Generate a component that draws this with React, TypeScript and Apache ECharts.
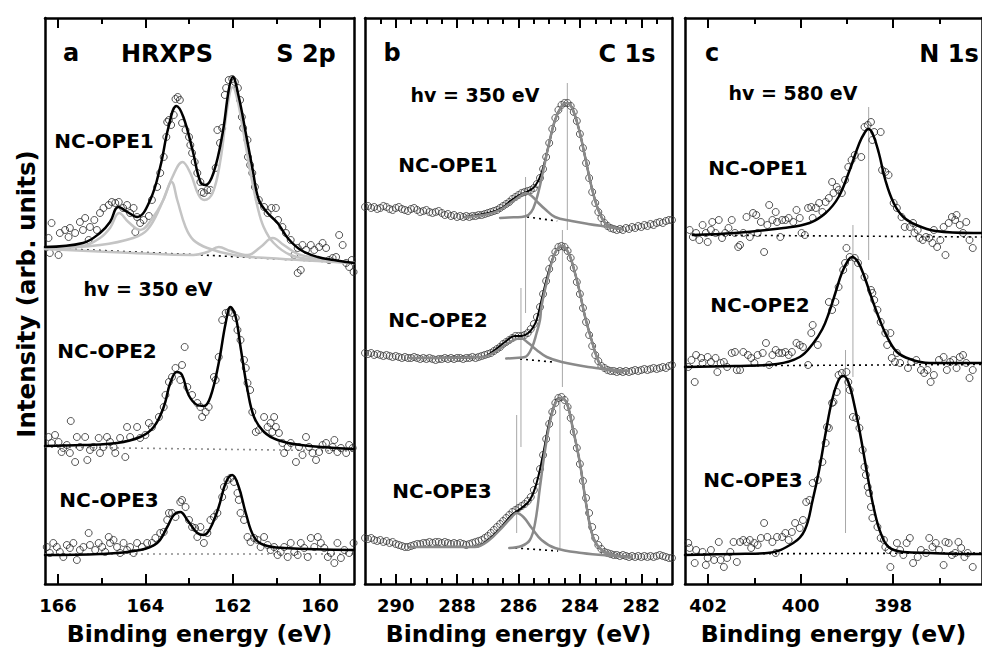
import { useEffect, useRef } from 'react';
import * as echarts from 'echarts';

type Pt = [number, number];

// ---------- S 2p (panel a) ----------
const s2pMajorTicks = [160, 162, 164, 166];
const s2pMinorTicks = [161, 163, 165];

const s2pOpe1Points: Pt[] = [
  [166.22, 346], [166.15, 361], [166.19, 331], [165.99, 329], [165.96, 351], [165.84, 354], [165.76, 347],
  [165.73, 356], [165.61, 351], [165.5, 362], [165.43, 354], [165.38, 366], [165.3, 344], [165.27, 357],
  [165.17, 364], [165.11, 354], [165.04, 371], [164.96, 376], [164.84, 379], [164.77, 382], [164.69, 381],
  [164.61, 382], [164.51, 376], [164.42, 379], [164.35, 371], [164.27, 376], [164.23, 352], [164.19, 367],
  [164.12, 361], [164.04, 364], [163.92, 368], [163.85, 384], [163.73, 397], [163.66, 411], [163.58, 427],
  [163.52, 447], [163.5, 462], [163.46, 464], [163.41, 459], [163.35, 469], [163.31, 485], [163.26, 487],
  [163.21, 484], [163.16, 461], [163.08, 454], [163.0, 447], [162.97, 439], [162.93, 431], [162.87, 422],
  [162.81, 411], [162.74, 402], [162.71, 392], [162.66, 391], [162.58, 394], [162.51, 394], [162.39, 416],
  [162.35, 454], [162.29, 441], [162.24, 456], [162.18, 489], [162.15, 496], [162.09, 504], [162.01, 505],
  [161.95, 502], [161.88, 496], [161.83, 484], [161.79, 467], [161.76, 456], [161.66, 444], [161.65, 427],
  [161.6, 419], [161.55, 411], [161.49, 397], [161.4, 384], [161.28, 377], [161.2, 371], [161.11, 376],
  [161.01, 376], [160.96, 364], [160.86, 357], [160.78, 351], [160.67, 344], [160.59, 329], [160.51, 336],
  [160.4, 339], [160.32, 334], [160.21, 339], [160.13, 334], [160.02, 337], [159.94, 341], [159.86, 336],
  [159.79, 324], [159.71, 326], [159.63, 327], [159.56, 349], [159.48, 339], [159.4, 321], [159.33, 317],
  [159.27, 324], [159.23, 312], [160.51, 311], [160.44, 314],
];
const s2pOpe1Fit: Pt[] = [
  [166.3, 337], [165.43, 341], [165.04, 351], [164.81, 362], [164.62, 377], [164.41, 372], [164.19, 367],
  [163.89, 384], [163.66, 417], [163.47, 457], [163.29, 478], [163.13, 467], [162.92, 434], [162.74, 402],
  [162.62, 399], [162.44, 411], [162.23, 451], [162.09, 494], [162.0, 507], [161.86, 487], [161.7, 451],
  [161.54, 414], [161.4, 384], [161.2, 371], [160.97, 361], [160.74, 346], [160.44, 334], [160.05, 327],
  [159.68, 324], [159.22, 321],
];
const s2pOpe1DoubletA: Pt[] = [
  [166.3, 335], [165.04, 339], [164.28, 346], [163.96, 354], [163.66, 377], [163.38, 407], [163.15, 422],
  [162.97, 411], [162.78, 389], [162.65, 384], [162.46, 391], [162.28, 424], [162.12, 477], [162.0, 497],
  [161.89, 484], [161.75, 451], [161.59, 411], [161.43, 377], [161.29, 357], [161.06, 341], [160.67, 329],
  [160.05, 324], [159.22, 321],
];
const s2pOpe1DoubletB: Pt[] = [
  [166.3, 336], [165.43, 338], [165.04, 346], [164.81, 356], [164.6, 371], [164.39, 362], [164.12, 354],
  [163.82, 367], [163.59, 384], [163.4, 402], [163.27, 384], [163.08, 357], [162.9, 344], [162.58, 336],
  [161.98, 329], [161.2, 326], [159.22, 321],
];
const s2pOpe1DoubletC: Pt[] = [
  [166.3, 335], [164.28, 331], [162.9, 329], [162.58, 332], [162.32, 337], [162.05, 333], [161.66, 329],
  [161.36, 337], [161.08, 346], [160.83, 339], [160.44, 329], [159.22, 321],
];
const s2pOpe1Background: Pt[] = [[166.3, 336], [162.7, 329], [159.22, 321]];

const s2pOpe2Points: Pt[] = [
  [166.22, 147], [166.15, 141], [166.07, 149], [165.99, 142], [165.92, 132], [165.88, 136], [165.8, 139],
  [165.73, 131], [165.71, 163], [165.61, 122], [165.57, 147], [165.5, 137], [165.38, 147], [165.33, 124],
  [165.27, 134], [165.19, 137], [165.07, 146], [165.04, 131], [164.96, 137], [164.88, 147], [164.81, 142],
  [164.73, 137], [164.69, 131], [164.58, 146], [164.46, 127], [164.42, 157], [164.35, 147], [164.19, 157],
  [164.12, 146], [164.0, 149], [163.92, 161], [163.85, 157], [163.69, 167], [163.58, 177], [163.54, 189],
  [163.46, 202], [163.39, 207], [163.31, 216], [163.16, 219], [163.2, 204], [163.1, 237], [163.04, 197],
  [162.93, 189], [162.81, 181], [162.74, 177], [162.7, 167], [162.62, 172], [162.55, 177], [162.43, 207],
  [162.39, 204], [162.32, 227], [162.24, 264], [162.16, 271], [162.09, 272], [162.01, 271], [161.93, 266],
  [161.89, 254], [161.82, 244], [161.74, 224], [161.7, 216], [161.66, 201], [161.6, 194], [161.55, 172],
  [161.47, 152], [161.4, 154], [161.28, 167], [161.2, 157], [161.13, 161], [161.09, 152], [161.05, 167],
  [161.01, 157], [160.94, 151], [160.86, 141], [160.82, 131], [160.74, 137], [160.67, 141], [160.55, 122],
  [160.48, 137], [160.4, 129], [160.32, 147], [160.25, 137], [160.17, 131], [160.09, 124], [160.02, 132],
  [159.94, 139], [159.86, 141], [159.79, 134], [159.71, 137], [159.67, 144], [159.6, 132], [159.52, 136],
  [159.4, 131], [159.33, 139], [159.25, 136],
];
const s2pOpe2Fit: Pt[] = [
  [166.3, 138], [165.42, 139], [164.65, 141], [164.12, 147], [163.81, 157], [163.58, 177], [163.43, 201],
  [163.28, 212], [163.16, 209], [163.01, 189], [162.81, 179], [162.66, 178], [162.51, 187], [162.32, 221],
  [162.16, 261], [162.05, 277], [161.93, 267], [161.82, 237], [161.66, 194], [161.51, 167], [161.28, 152],
  [160.97, 144], [160.44, 139], [159.22, 135],
];
const s2pOpe2Background: Pt[] = [[166.3, 137], [159.22, 133]];

const s2pOpe3Points: Pt[] = [
  [166.26, 37], [166.19, 31], [166.11, 41], [166.03, 37], [165.96, 32], [165.88, 27], [165.8, 39],
  [165.73, 36], [165.65, 41], [165.57, 24], [165.5, 34], [165.42, 37], [165.3, 51], [165.27, 39],
  [165.15, 34], [165.07, 41], [164.99, 37], [164.92, 32], [164.84, 47], [164.81, 41], [164.73, 44],
  [164.65, 37], [164.58, 31], [164.5, 41], [164.42, 34], [164.35, 37], [164.27, 31], [164.19, 41],
  [164.08, 37], [163.96, 41], [163.85, 41], [163.77, 46], [163.66, 51], [163.58, 52], [163.5, 64],
  [163.46, 71], [163.39, 71], [163.31, 67], [163.2, 82], [163.16, 84], [163.08, 77], [163.0, 64],
  [162.93, 57], [162.86, 56], [162.81, 47], [162.74, 57], [162.66, 41], [162.58, 51], [162.51, 64],
  [162.43, 67], [162.35, 71], [162.24, 87], [162.2, 97], [162.12, 104], [162.05, 106], [161.97, 102],
  [161.89, 91], [161.86, 84], [161.82, 71], [161.74, 64], [161.66, 47], [161.59, 42], [161.51, 46],
  [161.43, 44], [161.36, 37], [161.28, 47], [161.2, 39], [161.13, 34], [161.05, 37], [160.97, 29],
  [160.9, 32], [160.82, 37], [160.74, 27], [160.67, 41], [160.59, 32], [160.51, 29], [160.44, 41],
  [160.36, 36], [160.28, 27], [160.21, 46], [160.13, 37], [160.05, 47], [159.98, 41], [159.9, 36],
  [159.82, 27], [159.75, 31], [159.67, 21], [159.6, 41], [159.52, 26], [159.44, 34], [159.33, 31],
  [159.23, 41],
];
const s2pOpe3Fit: Pt[] = [
  [166.3, 29], [165.04, 30], [164.12, 34], [163.73, 41], [163.5, 57], [163.35, 69], [163.2, 72],
  [163.04, 64], [162.81, 51], [162.66, 49], [162.51, 56], [162.32, 77], [162.16, 101], [162.01, 109],
  [161.86, 97], [161.7, 71], [161.51, 47], [161.28, 39], [160.82, 36], [159.22, 34],
];
const s2pOpe3Background: Pt[] = [[166.3, 30], [159.22, 30]];

// ---------- C 1s (panel b) ----------
const c1sMajorTicks = [282, 284, 286, 288, 290];
const c1sMinorTicks = [281.5, 282.5, 283, 283.5, 284.5, 285, 285.5, 286.5, 287, 287.5, 288.5, 289, 289.5, 290.5];
// measured on a 0.1 eV grid from 291.0 eV down to 281.0 eV
const c1sEnergy = Array.from({ length: 101 }, (_, i) => Math.round((291 - i * 0.1) * 10) / 10);

const c1sOpe1Counts = [
  377, 378, 376, 377, 375, 376, 378, 377, 375, 374, 376,
  377, 375, 374, 373, 375, 376, 374, 372, 373, 374,
  372, 371, 372, 373, 371, 369, 370, 368, 369, 367,
  368, 367, 368, 367, 368, 368, 369, 369, 370, 371,
  372, 373, 374, 376, 378, 380, 382, 385, 387, 389,
  391, 392, 393, 394, 396, 400, 406, 415, 427, 441,
  455, 466, 474, 479, 481, 481, 478, 472, 463, 450,
  436, 421, 406, 392, 381, 372, 366, 361, 358, 356,
  355, 354, 355, 354, 356, 355, 357, 356, 358, 357,
  359, 358, 360, 359, 361, 362, 361, 363, 364, 364,
];
const c1sOpe2Counts = [
  231, 230, 231, 229, 230, 229, 228, 229, 228, 227, 228,
  227, 226, 227, 226, 226, 227, 226, 225, 226, 225,
  226, 225, 224, 225, 225, 226, 225, 226, 225, 226,
  226, 225, 226, 226, 227, 226, 227, 228, 229, 230,
  231, 233, 235, 237, 240, 242, 244, 246, 248, 248,
  248, 249, 251, 255, 260, 267, 277, 290, 303, 315,
  325, 332, 337, 338, 337, 333, 326, 316, 302, 290,
  276, 262, 249, 238, 229, 223, 218, 216, 214, 213,
  213, 212, 213, 212, 213, 212, 213, 214, 213, 214,
  215, 214, 215, 216, 215, 216, 217, 216, 218, 219,
];
const c1sOpe3Counts = [
  46, 45, 46, 44, 43, 44, 42, 43, 41, 42, 40,
  39, 38, 37, 37, 38, 39, 40, 40, 41, 41,
  42, 41, 42, 42, 41, 42, 41, 40, 41, 40,
  41, 40, 39, 40, 41, 42, 43, 44, 46, 48,
  51, 54, 57, 60, 63, 66, 69, 72, 74, 76,
  78, 80, 83, 87, 94, 103, 115, 129, 145, 160,
  172, 181, 186, 187, 184, 177, 166, 152, 136, 120,
  103, 86, 71, 57, 46, 39, 35, 32, 31, 30,
  29, 29, 28, 29, 28, 27, 28, 27, 28, 27,
  28, 27, 28, 27, 28, 29, 28, 27, 26, 26,
];

const c1sOpe1Envelope: Pt[] = [
  [287.74, 367], [286.98, 371], [286.55, 376], [286.22, 384], [285.9, 390], [285.68, 393], [285.46, 398],
  [285.25, 411], [285.03, 437], [284.81, 464], [284.59, 478], [284.43, 481], [284.27, 477], [284.05, 457],
  [283.83, 427], [283.62, 397], [283.4, 374], [283.18, 361], [282.97, 357], [282.64, 355],
];
const c1sOpe1Main: Pt[] = [
  [286.6, 366], [286.33, 366.5], [285.9, 367], [285.68, 369], [285.52, 375.5], [285.35, 392], [285.19, 414],
  [285.03, 437], [284.81, 464], [284.59, 478], [284.43, 481], [284.27, 477], [284.05, 457], [283.83, 427],
  [283.62, 397], [283.4, 374], [283.18, 361], [282.97, 357], [282.64, 355],
];
const c1sOpe1Minor: Pt[] = [
  [287.74, 367], [286.98, 370], [286.55, 375], [286.22, 382], [285.9, 389], [285.76, 391], [285.57, 388],
  [285.35, 381], [285.14, 375], [284.81, 367], [284.27, 363], [283.73, 360], [283.07, 357], [282.64, 355],
];
const c1sOpe1Background: Pt[] = [[285.72, 367], [284.74, 363]];

const c1sOpe2Envelope: Pt[] = [
  [289.53, 226], [287.2, 227], [286.77, 234], [286.44, 242], [286.11, 248], [285.9, 248], [285.68, 251],
  [285.52, 257], [285.41, 264], [285.25, 284], [285.03, 311], [284.81, 331], [284.59, 338], [284.37, 331],
  [284.16, 311], [284.0, 291], [283.83, 267], [283.62, 244], [283.45, 227], [283.29, 217], [283.07, 214],
  [282.64, 212],
];
const c1sOpe2Main: Pt[] = [
  [286.4, 225.5], [286.11, 226], [285.79, 227], [285.57, 236], [285.41, 251], [285.3, 264], [285.25, 278],
  [285.03, 308], [284.81, 331], [284.59, 338], [284.37, 331], [284.16, 311], [284.0, 291], [283.83, 267],
  [283.62, 244], [283.45, 227], [283.29, 217], [283.07, 214], [282.64, 212],
];
const c1sOpe2Minor: Pt[] = [
  [289.53, 226], [287.2, 227], [286.77, 232], [286.33, 241], [285.93, 245.7], [285.68, 241], [285.41, 234],
  [285.08, 227], [284.59, 222], [283.73, 217], [282.86, 214], [282.42, 213],
];
const c1sOpe2Background: Pt[] = [[285.95, 225], [284.88, 222]];

const c1sOpe3Envelope: Pt[] = [
  [289.53, 37], [287.42, 37], [286.99, 44], [286.55, 57], [286.22, 69], [285.9, 76], [285.63, 84],
  [285.41, 101], [285.19, 131], [284.98, 164], [284.76, 184], [284.63, 186], [284.43, 181], [284.22, 154],
  [284.0, 121], [283.78, 77], [283.57, 47], [283.29, 34], [282.86, 29], [282.31, 27],
];
const c1sOpe3Main: Pt[] = [
  [286.3, 36], [285.9, 38], [285.63, 44], [285.46, 61], [285.3, 97], [285.14, 133], [284.98, 161],
  [284.81, 180], [284.63, 186], [284.43, 181], [284.22, 154], [284.0, 121], [283.78, 77], [283.57, 47],
  [283.29, 34], [282.86, 29], [282.31, 27],
];
const c1sOpe3Minor: Pt[] = [
  [289.53, 37], [287.42, 37], [286.99, 43], [286.55, 56], [286.22, 67], [286.06, 71], [285.84, 67],
  [285.57, 56], [285.25, 44], [284.81, 36], [283.94, 31], [282.86, 28], [282.31, 27],
];
const c1sOpe3Background: Pt[] = [[286.11, 36], [284.71, 33]];

// peak positions: [energy, lower intensity, upper intensity]
const c1sPeakMarkers: [number, number, number][] = [
  [284.41, 354, 501], [285.77, 271, 407],
  [284.57, 197, 354], [285.92, 137, 296],
  [284.65, 36, 189], [286.06, 51, 169],
];

// ---------- N 1s (panel c) ----------
const n1sMajorTicks = [398, 400, 402];
const n1sMinorTicks = [397, 399, 401];

const n1sOpe1Points: Pt[] = [
  [402.4, 354], [402.33, 347], [402.26, 351], [402.19, 344], [402.12, 359], [402.05, 351], [402.01, 342],
  [401.94, 354], [401.91, 362], [401.84, 351], [401.77, 364], [401.7, 346], [401.63, 351], [401.56, 356],
  [401.49, 364], [401.42, 351], [401.35, 337], [401.31, 339], [401.24, 351], [401.17, 367], [401.1, 347],
  [401.03, 371], [400.96, 369], [400.93, 351], [400.86, 362], [400.79, 332], [400.72, 359], [400.68, 379],
  [400.61, 364], [400.54, 372], [400.51, 362], [400.44, 347], [400.4, 364], [400.33, 364], [400.26, 366],
  [400.16, 362], [400.09, 374], [400.02, 366], [399.98, 351], [399.91, 349], [399.84, 376], [399.77, 377],
  [399.74, 366], [399.67, 376], [399.6, 381], [399.53, 372], [399.46, 382], [399.39, 386], [399.32, 402],
  [399.29, 391], [399.22, 397], [399.18, 394], [399.11, 391], [399.04, 404], [398.97, 417], [398.9, 424],
  [398.83, 429], [398.69, 427], [398.62, 457], [398.55, 459], [398.48, 462], [398.41, 452], [398.27, 452],
  [398.45, 444], [398.24, 414], [398.17, 412], [398.1, 409], [397.99, 381], [397.92, 376], [397.82, 367],
  [397.75, 357], [397.64, 357], [397.57, 361], [397.54, 351], [397.47, 354], [397.43, 346], [397.36, 344],
  [397.29, 347], [397.22, 346], [397.15, 341], [397.12, 354], [397.05, 337], [396.98, 344], [396.91, 357],
  [396.87, 329], [396.8, 361], [396.73, 367], [396.66, 364], [396.63, 369], [396.56, 359], [396.49, 351],
  [396.42, 362], [396.35, 344], [396.28, 336],
];
const n1sOpe1Fit: Pt[] = [
  [402.33, 349], [401.42, 351], [400.37, 356], [399.81, 361], [399.46, 371], [399.18, 387], [398.94, 414],
  [398.73, 441], [398.62, 451], [398.54, 455], [398.45, 451], [398.31, 431], [398.17, 404], [397.99, 381],
  [397.78, 367], [397.5, 359], [397.08, 353], [396.27, 351], [396.08, 351],
];
const n1sOpe1Background: Pt[] = [[402.33, 349], [396.08, 347]];

const n1sOpe2Points: Pt[] = [
  [402.43, 217], [402.36, 224], [402.29, 202], [402.26, 229], [402.15, 226], [402.12, 221], [402.01, 227],
  [401.94, 222], [401.84, 226], [401.8, 212], [401.73, 221], [401.66, 222], [401.59, 217], [401.49, 231],
  [401.42, 232], [401.38, 214], [401.31, 214], [401.24, 232], [401.14, 229], [401.07, 226], [401.0, 221],
  [400.93, 229], [400.82, 231], [400.75, 241], [400.68, 219], [400.61, 229], [400.54, 234], [400.47, 231],
  [400.4, 231], [400.33, 232], [400.26, 229], [400.19, 232], [400.09, 241], [400.02, 239], [399.95, 237],
  [399.84, 219], [399.77, 251], [399.63, 239], [399.74, 259], [399.39, 282], [399.32, 274], [399.25, 282],
  [399.18, 297], [399.08, 314], [399.04, 321], [399.01, 336], [398.94, 327], [398.83, 326], [398.76, 321],
  [398.62, 307], [398.48, 294], [398.45, 291], [398.41, 284], [398.34, 274], [398.27, 262], [398.17, 251],
  [398.13, 239], [398.06, 251], [398.03, 226], [397.96, 222], [397.92, 231], [397.85, 221], [397.68, 216],
  [397.61, 222], [397.5, 224], [397.4, 214], [397.33, 211], [397.26, 214], [397.19, 202], [397.12, 209],
  [397.01, 224], [396.91, 227], [396.84, 214], [396.77, 222], [396.7, 224], [396.63, 216], [396.56, 227],
  [396.49, 229], [396.42, 221], [396.35, 206], [396.28, 214],
];
const n1sOpe2Fit: Pt[] = [
  [402.5, 217], [401.42, 218], [400.51, 220], [400.02, 227], [399.74, 240], [399.53, 255], [399.39, 271],
  [399.25, 291], [399.11, 311], [398.97, 324], [398.89, 327], [398.76, 322], [398.62, 307], [398.45, 284],
  [398.29, 264], [398.13, 247], [397.92, 232], [397.64, 225], [397.22, 221], [396.27, 221], [396.08, 221],
];
const n1sOpe2Background: Pt[] = [[402.5, 218], [396.08, 219.5]];

const n1sOpe3Points: Pt[] = [
  [402.43, 41], [402.4, 36], [402.29, 21], [402.26, 34], [402.12, 32], [402.05, 19], [402.01, 26],
  [401.94, 34], [401.87, 24], [401.77, 42], [401.73, 24], [401.66, 17], [401.59, 26], [401.52, 32],
  [401.45, 42], [401.38, 22], [401.31, 42], [401.24, 44], [401.17, 42], [401.1, 44], [401.07, 36],
  [401.0, 41], [400.93, 39], [400.86, 46], [400.79, 61], [400.72, 47], [400.61, 42], [400.54, 31],
  [400.51, 47], [400.4, 47], [400.33, 51], [400.26, 44], [400.19, 52], [400.12, 61], [400.02, 56],
  [399.95, 64], [399.88, 82], [399.81, 84], [399.74, 101], [399.63, 104], [399.53, 122], [399.46, 141],
  [399.43, 157], [399.39, 156], [399.32, 181], [399.29, 182], [399.22, 192], [399.18, 209], [399.11, 211],
  [399.01, 212], [398.97, 202], [398.94, 194], [398.87, 167], [398.8, 166], [398.73, 156], [398.66, 134],
  [398.62, 117], [398.59, 109], [398.55, 97], [398.52, 91], [398.48, 77], [398.45, 66], [398.34, 57],
  [398.27, 46], [398.2, 44], [398.17, 37], [398.1, 34], [398.06, 17], [397.99, 31], [397.92, 41],
  [397.85, 34], [397.78, 29], [397.71, 41], [397.64, 46], [397.57, 21], [397.47, 27], [397.4, 34],
  [397.29, 31], [397.22, 46], [397.15, 37], [397.08, 41], [397.01, 34], [396.91, 19], [396.87, 42],
  [396.8, 41], [396.73, 29], [396.66, 31], [396.59, 42], [396.53, 36], [396.46, 27], [396.39, 31],
  [396.28, 17],
];
const n1sOpe3Fit: Pt[] = [
  [402.5, 29], [401.42, 30], [400.72, 31], [400.16, 41], [399.91, 54], [399.74, 84], [399.6, 114],
  [399.46, 151], [399.32, 184], [399.18, 204], [399.08, 208], [398.97, 202], [398.83, 177], [398.69, 144],
  [398.55, 107], [398.41, 74], [398.27, 51], [398.1, 37], [397.78, 32], [397.22, 31], [396.27, 30],
  [396.08, 30],
];
const n1sOpe3Background: Pt[] = [[402.5, 30], [396.08, 31]];

const n1sPeakMarkers: [number, number, number][] = [
  [398.53, 324, 477],
  [398.87, 207, 359],
  [399.03, 51, 234],
];

// ---------- layout and styling ----------
const FONT = '"DejaVu Sans", "Liberation Sans", sans-serif';
const INTENSITY_MAX = 566;
const panels = [
  { left: 45, width: 309, min: 159.22, max: 166.3, majors: s2pMajorTicks, minors: s2pMinorTicks },
  { left: 365, width: 307, min: 281, max: 291, majors: c1sMajorTicks, minors: c1sMinorTicks },
  { left: 685, width: 306, min: 396.08, max: 402.5, majors: n1sMajorTicks, minors: n1sMinorTicks },
];

const FRAME = { color: '#000', width: 2.5 };

function buildAxes() {
  const xAxis: any[] = [];
  const yAxis: any[] = [];
  panels.forEach((p, i) => {
    const base = {
      gridIndex: i, type: 'value', min: p.min, max: p.max, inverse: true,
      splitLine: { show: false },
    };
    // bottom: major ticks + labels + title
    xAxis.push({
      ...base, position: 'bottom',
      axisLine: { show: true, onZero: false, lineStyle: FRAME },
      axisTick: { show: true, inside: true, length: 10, customValues: p.majors, lineStyle: { color: '#000', width: 2 } },
      axisLabel: {
        show: true, customValues: p.majors, margin: 12, color: '#000',
        fontFamily: FONT, fontWeight: 'bold', fontSize: 18,
      },
      name: 'Binding energy (eV)', nameLocation: 'middle', nameGap: 38,
      nameTextStyle: { color: '#000', fontFamily: FONT, fontWeight: 'bold', fontSize: 23.5 },
    });
    // bottom: minor ticks
    xAxis.push({
      ...base, position: 'bottom',
      axisLine: { show: false, onZero: false },
      axisTick: { show: true, inside: true, length: 6, customValues: p.minors, lineStyle: { color: '#000', width: 2 } },
      axisLabel: { show: false },
    });
    // top: major ticks
    xAxis.push({
      ...base, position: 'top',
      axisLine: { show: true, onZero: false, lineStyle: FRAME },
      axisTick: { show: true, inside: true, length: 10, customValues: p.majors, lineStyle: { color: '#000', width: 2 } },
      axisLabel: { show: false },
    });
    // top: minor ticks
    xAxis.push({
      ...base, position: 'top',
      axisLine: { show: false, onZero: false },
      axisTick: { show: true, inside: true, length: 6, customValues: p.minors, lineStyle: { color: '#000', width: 2 } },
      axisLabel: { show: false },
    });
    const yBase = {
      gridIndex: i, type: 'value', min: 0, max: INTENSITY_MAX,
      axisLine: { show: true, onZero: false, lineStyle: FRAME },
      axisTick: { show: false }, axisLabel: { show: false }, splitLine: { show: false },
    };
    yAxis.push({ ...yBase, position: 'left' });
    yAxis.push({ ...yBase, position: 'right' });
  });
  return { xAxis, yAxis };
}

function curve(panel: number, data: Pt[], color: string, width: number, z: number): any {
  return {
    type: 'line', xAxisIndex: panel * 4, yAxisIndex: panel * 2, data,
    symbol: 'none', showSymbol: false, smooth: 0.4, silent: true, z,
    lineStyle: { color, width, cap: 'round', join: 'round' },
  };
}

function dotted(panel: number, data: Pt[], color: string): any {
  return {
    type: 'line', xAxisIndex: panel * 4, yAxisIndex: panel * 2, data,
    symbol: 'none', showSymbol: false, silent: true, z: 1,
    lineStyle: { color, width: 1.6, type: [2, 4] },
  };
}

function points(panel: number, data: Pt[], color: string): any {
  return {
    type: 'scatter', xAxisIndex: panel * 4, yAxisIndex: panel * 2, data,
    symbol: 'circle', symbolSize: 7, silent: true, z: 2,
    itemStyle: { color: 'rgba(255,255,255,0)', borderColor: color, borderWidth: 1 },
  };
}

function markers(panel: number, list: [number, number, number][]): any[] {
  return list.map(([e, lo, hi]) => ({
    type: 'line', xAxisIndex: panel * 4, yAxisIndex: panel * 2,
    data: [[e, lo], [e, hi]], symbol: 'none', showSymbol: false, silent: true, z: 1,
    lineStyle: { color: '#a8a8a8', width: 1 },
  }));
}

const zip = (xs: number[], ys: number[]): Pt[] => xs.map((x, i) => [x, ys[i]]);

function label(text: string, x: number, y: number, size: number): any {
  return {
    type: 'text', x, y, silent: true,
    style: {
      text, fill: '#000', font: `bold ${size}px ${FONT}`,
      align: 'center', verticalAlign: 'middle', textAlign: 'center', textVerticalAlign: 'middle',
    },
  };
}

export default function App() {
  const ref = useRef<HTMLDivElement>(null);

  useEffect(() => {
    if (!ref.current) return;
    const chart = echarts.init(ref.current, undefined, { renderer: 'svg' });
    const { xAxis, yAxis } = buildAxes();

    const LIGHT = '#c4c4c4';
    const MID = '#8a8a8a';
    const series: any[] = [
      // S 2p
      dotted(0, s2pOpe1Background, '#000'),
      points(0, s2pOpe1Points, '#2a2a2a'),
      curve(0, s2pOpe1DoubletC, LIGHT, 2.5, 3),
      curve(0, s2pOpe1DoubletB, LIGHT, 2.5, 3),
      curve(0, s2pOpe1DoubletA, LIGHT, 2.5, 3),
      curve(0, s2pOpe1Fit, '#000', 2.5, 4),
      dotted(0, s2pOpe2Background, '#8c8c8c'),
      points(0, s2pOpe2Points, '#2a2a2a'),
      curve(0, s2pOpe2Fit, '#000', 2.5, 4),
      dotted(0, s2pOpe3Background, '#8c8c8c'),
      points(0, s2pOpe3Points, '#2a2a2a'),
      curve(0, s2pOpe3Fit, '#000', 2.5, 4),
      // C 1s
      ...markers(1, c1sPeakMarkers),
      dotted(1, c1sOpe1Background, '#000'),
      dotted(1, c1sOpe2Background, '#000'),
      dotted(1, c1sOpe3Background, '#000'),
      points(1, zip(c1sEnergy, c1sOpe1Counts), '#3a3a3a'),
      points(1, zip(c1sEnergy, c1sOpe2Counts), '#3a3a3a'),
      points(1, zip(c1sEnergy, c1sOpe3Counts), '#3a3a3a'),
      curve(1, c1sOpe1Envelope, '#000', 2, 3),
      curve(1, c1sOpe2Envelope, '#000', 2, 3),
      curve(1, c1sOpe3Envelope, '#000', 2, 3),
      curve(1, c1sOpe1Minor, MID, 2.5, 4),
      curve(1, c1sOpe1Main, MID, 2.5, 4),
      curve(1, c1sOpe2Minor, MID, 2.5, 4),
      curve(1, c1sOpe2Main, MID, 2.5, 4),
      curve(1, c1sOpe3Minor, MID, 2.5, 4),
      curve(1, c1sOpe3Main, MID, 2.5, 4),
      // N 1s
      ...markers(2, n1sPeakMarkers),
      dotted(2, n1sOpe1Background, '#000'),
      dotted(2, n1sOpe2Background, '#000'),
      dotted(2, n1sOpe3Background, '#000'),
      points(2, n1sOpe1Points, '#2a2a2a'),
      points(2, n1sOpe2Points, '#2a2a2a'),
      points(2, n1sOpe3Points, '#2a2a2a'),
      curve(2, n1sOpe1Fit, '#000', 2.5, 4),
      curve(2, n1sOpe2Fit, '#000', 2.5, 4),
      curve(2, n1sOpe3Fit, '#000', 2.5, 4),
    ];

    chart.setOption({
      animation: false,
      backgroundColor: '#fff',
      grid: panels.map((p) => ({ left: p.left, width: p.width, top: 18, height: INTENSITY_MAX, containLabel: false })),
      xAxis,
      yAxis,
      series,
      graphic: [
        {
          type: 'text', x: 26, y: 294, rotation: Math.PI / 2, silent: true,
          style: {
            text: 'Intensity (arb. units)', fill: '#000', font: `bold 24.5px ${FONT}`,
            align: 'center', verticalAlign: 'middle', textAlign: 'center', textVerticalAlign: 'middle',
          },
        },
        label('a', 71, 53, 24),
        label('HRXPS', 167, 54, 24),
        label('S 2p', 306, 54, 24),
        label('NC-OPE1', 104, 141, 20),
        label('hv = 350 eV', 148, 289, 19),
        label('NC-OPE2', 107, 351, 20),
        label('NC-OPE3', 109, 500, 20),
        label('b', 392, 53, 24),
        label('C 1s', 627, 54, 24),
        label('hv = 350 eV', 475, 95, 19),
        label('NC-OPE1', 448, 165, 20),
        label('NC-OPE2', 438, 320, 20),
        label('NC-OPE3', 442, 491, 20),
        label('c', 712, 53, 24),
        label('N 1s', 949, 54, 24),
        label('hv = 580 eV', 793, 93, 19),
        label('NC-OPE1', 758, 168, 20),
        label('NC-OPE2', 760, 305, 20),
        label('NC-OPE3', 753, 480, 20),
      ],
    });

    return () => chart.dispose();
  }, []);

  return (
    <div
      ref={ref}
      style={{ position: 'fixed', left: 0, top: 0, width: 982, height: 657, background: '#fff' }}
    />
  );
}
